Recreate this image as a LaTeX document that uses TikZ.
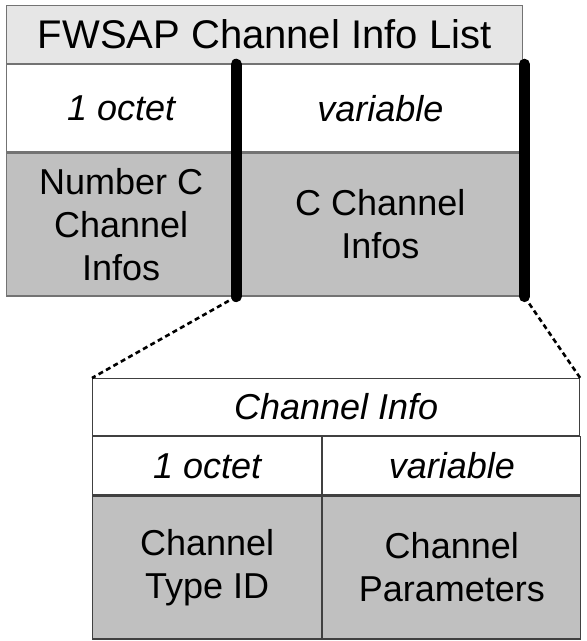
\documentclass[tikz,border=0pt]{standalone}
\usepackage{fontspec}
\setmainfont{Liberation Sans}
\usetikzlibrary{positioning}

\definecolor{headgray}{RGB}{230,230,230}
\definecolor{cellgray}{RGB}{192,192,192}

\begin{document}
\begin{tikzpicture}[
    x=1pt, y=-1pt,
    cell/.style={rectangle, draw=black!55, line width=1.2pt, inner sep=0pt,
                 align=center, font=\fontsize{36}{43}\selectfont},
    head/.style={cell, fill=headgray, font=\fontsize{40}{48}\selectfont},
    size/.style={cell, fill=white, font=\fontsize{36}{43}\selectfont\itshape},
    field/.style={cell, fill=cellgray},
    sub/.style={draw=black!75},
    bar/.style={line width=11pt, line cap=round},
    zoomline/.style={line width=2.6pt, dash pattern=on 5pt off 3.5pt},
]
\useasboundingbox (0,0) rectangle (587,641);

% FWSAP list
\node[head, minimum width=516pt, minimum height=58pt, anchor=north west] at (6,5) (fwsap) {FWSAP Channel Info List};
\node[size, minimum width=229pt, minimum height=87pt, below right=0pt of fwsap.south west] (octA) {1 octet};
\node[size, minimum width=287pt, minimum height=87pt, right=0pt of octA] (varA) {variable};
\node[field, minimum width=229pt, minimum height=143pt, below=0pt of octA] (numC) {Number C\\Channel\\Infos};
\node[field, minimum width=287pt, minimum height=143pt, below=0pt of varA] (infosC) {C Channel\\Infos};

% Channel info
\node[size, sub, minimum width=487pt, minimum height=57pt, anchor=north west] at (92,378) (chinfo) {Channel Info};
\node[size, sub, minimum width=229pt, minimum height=58pt, below right=0pt of chinfo.south west] (octB) {1 octet};
\node[size, sub, minimum width=258pt, minimum height=58pt, right=0pt of octB] (varB) {variable};
\node[field, sub, minimum width=229pt, minimum height=143pt, below=0pt of octB] (typeB) {Channel\\Type ID};
\node[field, sub, minimum width=258pt, minimum height=143pt, below=0pt of varB] (paramB) {Channel\\Parameters};

% zoom lines
\draw[zoomline] (numC.south east) -- (chinfo.north west);
\draw[zoomline] (infosC.south east) -- (chinfo.north east);

% field bounds
\draw[bar] (octA.north east) -- (numC.south east);
\draw[bar] (varA.north east) -- (infosC.south east);

\end{tikzpicture}
\end{document}
